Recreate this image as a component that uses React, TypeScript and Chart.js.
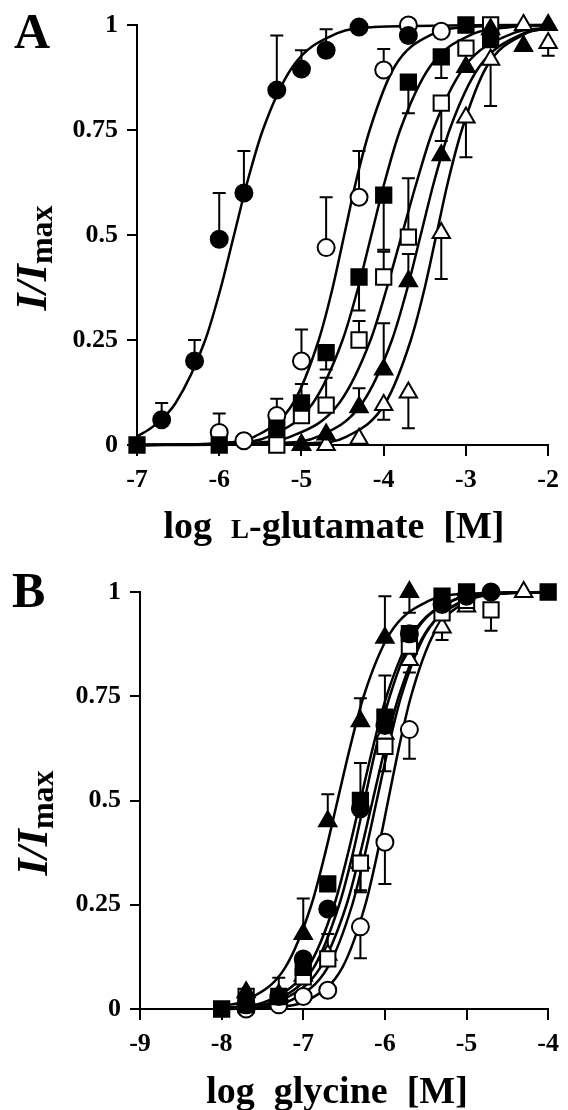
import React, { useEffect, useRef } from 'react';
import { Chart, registerables } from 'chart.js';

Chart.register(...registerables);

const FONT = "'Liberation Serif', 'Times New Roman', Times, serif";

// ---------- shared tick labels ----------
const Y_TICK_LABELS = ['0', '0.25', '0.5', '0.75', '1'];
const A_X_TICK_LABELS = ['-7', '-6', '-5', '-4', '-3', '-2'];
const B_X_TICK_LABELS = ['-9', '-8', '-7', '-6', '-5', '-4'];

// ---------- Panel A : log L-glutamate ----------
// filled circle
const A_FC_X = [-6.7, -6.3, -6, -5.7, -5.3, -5, -4.7, -4.3, -3.7];
const A_FC_Y = [0.06, 0.2, 0.49, 0.6, 0.845, 0.895, 0.94, 0.995, 0.975];
const A_FC_ERR = [0.04, 0.05, 0.11, 0.1, 0.13, 0.045, 0.05, 0, 0];
const A_FC_CURVE_X = [-7, -6.8, -6.53, -6.17, -5.98, -5.82, -5.66, -5.47, -5.11, -4.57, -4.12, -2];
const A_FC_CURVE_Y = [0.02, 0.045, 0.1, 0.25, 0.375, 0.5, 0.625, 0.75, 0.9, 0.98, 0.995, 1];
// open circle
const A_OC_X = [-6, -5.7, -5.3, -5, -4.7, -4.3, -4, -3.7, -3.3];
const A_OC_Y = [0.03, 0.01, 0.07, 0.2, 0.47, 0.59, 0.893, 1.0, 0.985];
const A_OC_ERR = [0.045, 0, 0.04, 0.075, 0.12, 0.11, 0.05, 0, 0];
const A_OC_CURVE_X = [-7, -5.96, -5.57, -5.1, -4.79, -4.62, -4.48, -4.34, -4.17, -3.87, -3.39, -3.0, -2];
const A_OC_CURVE_Y = [0, 0.005, 0.02, 0.1, 0.25, 0.375, 0.5, 0.625, 0.75, 0.9, 0.98, 0.995, 1];
// filled square
const A_FS_X = [-7, -6, -5.3, -5, -4.7, -4.3, -4, -3.7, -3.3, -3, -2.7];
const A_FS_Y = [0, 0, 0.04, 0.1, 0.22, 0.4, 0.595, 0.864, 0.924, 1.0, 0.965];
const A_FS_ERR = [0, 0, 0, 0.045, -0.04, -0.08, -0.13, -0.074, -0.05, 0, 0];
const A_FS_CURVE_X = [-7, -5.85, -5.4, -4.86, -4.5, -4.31, -4.15, -3.99, -3.8, -3.44, -2.9, -2.45, -2];
const A_FS_CURVE_Y = [0, 0.005, 0.02, 0.1, 0.25, 0.375, 0.5, 0.625, 0.75, 0.9, 0.98, 0.995, 1];
// open square
const A_OS_X = [-5.3, -5, -4.7, -4.3, -4, -3.7, -3.3, -3, -2.7];
const A_OS_Y = [0, 0.07, 0.095, 0.25, 0.4, 0.495, 0.814, 0.945, 1.0];
const A_OS_ERR = [0, 0, 0.065, 0.045, 0.06, 0.14, -0.09, 0, 0];
const A_OS_CURVE_X = [-7, -5.62, -5.13, -4.54, -4.16, -3.96, -3.78, -3.6, -3.4, -3.02, -2.43, -2];
const A_OS_CURVE_Y = [0, 0.005, 0.02, 0.1, 0.25, 0.375, 0.5, 0.625, 0.75, 0.9, 0.98, 0.994];
// filled triangle
const A_FT_X = [-5, -4.7, -4.3, -4, -3.7, -3.3, -3, -2.7, -2.3, -2];
const A_FT_Y = [0, 0.025, 0.09, 0.18, 0.39, 0.69, 0.9, 0.99, 0.95, 1.0];
const A_FT_ERR = [0, 0, 0.045, 0.11, 0.065, 0, 0, 0, 0, 0];
const A_FT_CURVE_X = [-7, -5.25, -4.8, -4.26, -3.9, -3.71, -3.55, -3.39, -3.2, -2.84, -2.3, -2];
const A_FT_CURVE_Y = [0, 0.005, 0.02, 0.1, 0.25, 0.375, 0.5, 0.625, 0.75, 0.9, 0.98, 0.992];
// open triangle
const A_OT_X = [-5, -4.7, -4.3, -4, -3.7, -3.3, -3, -2.7, -2.3, -2];
const A_OT_Y = [0, 0, 0.015, 0.095, 0.125, 0.505, 0.78, 0.917, 1.0, 0.957];
const A_OT_ERR = [0, 0, 0, -0.035, -0.085, -0.11, -0.095, -0.11, 0, -0.03];
const A_OT_CURVE_X = [-7, -4.84, -4.45, -3.98, -3.67, -3.5, -3.36, -3.22, -3.05, -2.75, -2.27, -2];
const A_OT_CURVE_Y = [0, 0.005, 0.02, 0.1, 0.25, 0.375, 0.5, 0.625, 0.75, 0.9, 0.98, 0.992];

// ---------- Panel B : log glycine ----------
const B_FC_X = [-7.7, -7.3, -7, -6.7, -6.3, -6, -5.7, -5.3, -5, -4.7];
const B_FC_Y = [0.01, 0.03, 0.12, 0.24, 0.48, 0.68, 0.9, 0.97, 0.99, 1.0];
const B_FC_ERR = [0, 0, 0, 0, 0, 0, 0, 0, 0, 0];
const B_FC_CURVE_X = [-8, -7.73, -7.34, -6.87, -6.56, -6.39, -6.25, -6.11, -5.94, -5.64, -5.16, -4.77, -4];
const B_FC_CURVE_Y = [0.002, 0.005, 0.02, 0.1, 0.25, 0.375, 0.5, 0.625, 0.75, 0.9, 0.98, 0.995, 1];

const B_OC_X = [-7.7, -7.3, -7, -6.7, -6.3, -6, -5.7];
const B_OC_Y = [0, 0.01, 0.03, 0.045, 0.197, 0.4, 0.67];
const B_OC_ERR = [0, 0, 0, 0, -0.075, -0.1, -0.07];
const B_OC_CURVE_X = [-8, -7.31, -6.95, -6.52, -6.24, -6.09, -5.96, -5.83, -5.68, -5.4, -4.97, -4.61, -4];
const B_OC_CURVE_Y = [0, 0.005, 0.02, 0.1, 0.25, 0.375, 0.5, 0.625, 0.75, 0.9, 0.98, 0.995, 1];

const B_FS_X = [-8, -7.7, -7.3, -7, -6.7, -6.3, -6, -5.7, -5.3, -5, -4];
const B_FS_Y = [0, 0.01, 0.03, 0.1, 0.3, 0.5, 0.7, 0.9, 0.99, 1.0, 1.0];
const B_FS_ERR = [0, 0, 0, 0, 0, 0.09, 0.1, 0, 0, 0, 0];
const B_FS_CURVE_X = [-8, -7.83, -7.43, -6.94, -6.62, -6.45, -6.3, -6.15, -5.98, -5.66, -5.17, -4.77, -4];
const B_FS_CURVE_Y = [0.003, 0.005, 0.02, 0.1, 0.25, 0.375, 0.5, 0.625, 0.75, 0.9, 0.98, 0.995, 1];

const B_OS_X = [-7.7, -7.3, -7, -6.7, -6.3, -6, -5.7, -5.3, -5, -4.7];
const B_OS_Y = [0.03, 0.02, 0.077, 0.12, 0.35, 0.63, 0.87, 0.95, 0.98, 0.957];
const B_OS_ERR = [0, 0, 0, 0.06, -0.07, 0, 0, 0, 0, -0.05];
const B_OS_CURVE_X = [-8, -7.68, -7.28, -6.79, -6.47, -6.3, -6.15, -6.0, -5.83, -5.51, -5.02, -4.62, -4];
const B_OS_CURVE_Y = [0.002, 0.005, 0.02, 0.1, 0.25, 0.375, 0.5, 0.625, 0.75, 0.9, 0.98, 0.995, 1];

const B_FT_X = [-7.7, -7.3, -7, -6.7, -6.3, -6, -5.7];
const B_FT_Y = [0.04, 0.035, 0.18, 0.45, 0.69, 0.89, 1.0];
const B_FT_ERR = [0, 0.04, 0.085, 0.065, 0.055, 0.1, -0.05];
const B_FT_CURVE_X = [-8, -7.71, -7.22, -6.9, -6.73, -6.58, -6.43, -6.26, -5.94, -5.45, -5.05, -4];
const B_FT_CURVE_Y = [0.007, 0.02, 0.1, 0.25, 0.375, 0.5, 0.625, 0.75, 0.9, 0.98, 0.995, 1];

const B_OT_X = [-7.7, -7.3, -7, -6.7, -6.3, -6, -5.7, -5.3, -5, -4.3];
const B_OT_Y = [0.02, 0.03, 0.08, 0.13, 0.35, 0.66, 0.837, 0.915, 0.965, 1.0];
const B_OT_ERR = [0, 0, 0, 0, -0.065, -0.09, -0.03, -0.03, 0, 0];
const B_OT_CURVE_X = [-8, -7.54, -7.16, -6.7, -6.4, -6.24, -6.1, -5.96, -5.8, -5.5, -5.04, -4.66, -4];
const B_OT_CURVE_Y = [0.001, 0.005, 0.02, 0.1, 0.25, 0.375, 0.5, 0.625, 0.75, 0.9, 0.98, 0.995, 1];

// ---------- styles ----------
const MARKER_STYLE: Record<string, { pointStyle: string; fill: string; radius: number }> = {
  fc: { pointStyle: 'circle', fill: '#000', radius: 8.5 },
  fs: { pointStyle: 'rect', fill: '#000', radius: 10.8 },
  ft: { pointStyle: 'triangle', fill: '#000', radius: 10 },
  oc: { pointStyle: 'circle', fill: '#fff', radius: 8.5 },
  os: { pointStyle: 'rect', fill: '#fff', radius: 10.8 },
  ot: { pointStyle: 'triangle', fill: '#fff', radius: 10 },
};
const MARKER_ORDER = ['fc', 'fs', 'ft', 'oc', 'os', 'ot'];

type Series = { key: string; x: number[]; y: number[]; err: number[]; cx: number[]; cy: number[] };

const A_SERIES: Series[] = [
  { key: 'fc', x: A_FC_X, y: A_FC_Y, err: A_FC_ERR, cx: A_FC_CURVE_X, cy: A_FC_CURVE_Y },
  { key: 'oc', x: A_OC_X, y: A_OC_Y, err: A_OC_ERR, cx: A_OC_CURVE_X, cy: A_OC_CURVE_Y },
  { key: 'fs', x: A_FS_X, y: A_FS_Y, err: A_FS_ERR, cx: A_FS_CURVE_X, cy: A_FS_CURVE_Y },
  { key: 'os', x: A_OS_X, y: A_OS_Y, err: A_OS_ERR, cx: A_OS_CURVE_X, cy: A_OS_CURVE_Y },
  { key: 'ft', x: A_FT_X, y: A_FT_Y, err: A_FT_ERR, cx: A_FT_CURVE_X, cy: A_FT_CURVE_Y },
  { key: 'ot', x: A_OT_X, y: A_OT_Y, err: A_OT_ERR, cx: A_OT_CURVE_X, cy: A_OT_CURVE_Y },
];
const B_SERIES: Series[] = [
  { key: 'fc', x: B_FC_X, y: B_FC_Y, err: B_FC_ERR, cx: B_FC_CURVE_X, cy: B_FC_CURVE_Y },
  { key: 'oc', x: B_OC_X, y: B_OC_Y, err: B_OC_ERR, cx: B_OC_CURVE_X, cy: B_OC_CURVE_Y },
  { key: 'fs', x: B_FS_X, y: B_FS_Y, err: B_FS_ERR, cx: B_FS_CURVE_X, cy: B_FS_CURVE_Y },
  { key: 'os', x: B_OS_X, y: B_OS_Y, err: B_OS_ERR, cx: B_OS_CURVE_X, cy: B_OS_CURVE_Y },
  { key: 'ft', x: B_FT_X, y: B_FT_Y, err: B_FT_ERR, cx: B_FT_CURVE_X, cy: B_FT_CURVE_Y },
  { key: 'ot', x: B_OT_X, y: B_OT_Y, err: B_OT_ERR, cx: B_OT_CURVE_X, cy: B_OT_CURVE_Y },
];

const errorBarPlugin = {
  id: 'errbars',
  beforeDatasetsDraw(chart: any) {
    const ctx = chart.ctx;
    const xs = chart.scales.x;
    const ys = chart.scales.y;
    ctx.save();
    ctx.strokeStyle = '#000';
    ctx.lineWidth = 2;
    chart.data.datasets.forEach((ds: any) => {
      const err = ds.errors;
      if (!err) return;
      ds.data.forEach((p: any, i: number) => {
        const e = err[i];
        if (!e) return;
        const px = xs.getPixelForValue(p.x);
        const py0 = ys.getPixelForValue(p.y);
        const py1 = ys.getPixelForValue(p.y + e);
        ctx.beginPath();
        ctx.moveTo(px, py0);
        ctx.lineTo(px, py1);
        ctx.moveTo(px - 6.5, py1);
        ctx.lineTo(px + 6.5, py1);
        ctx.stroke();
      });
    });
    ctx.restore();
  },
};

function buildConfig(
  series: Series[],
  xMin: number,
  xMax: number,
  xTickLabels: string[],
  geom: { top: number; right: number; yw: number; xh: number }
): any {
  const datasets: any[] = [];
  MARKER_ORDER.forEach((k) => {
    const s = series.find((q) => q.key === k)!;
    const st = MARKER_STYLE[k];
    datasets.push({
      type: 'scatter',
      data: s.x.map((x, i) => ({ x, y: s.y[i] })),
      errors: s.err,
      pointStyle: st.pointStyle,
      pointRadius: st.radius,
      backgroundColor: st.fill,
      borderColor: '#000',
      borderWidth: 2,
      showLine: false,
      clip: false,
    });
  });
  series.forEach((s) => {
    datasets.push({
      type: 'line',
      data: s.cx.map((x, i) => ({ x, y: s.cy[i] })),
      pointRadius: 0,
      borderColor: '#000',
      borderWidth: 2.5,
      cubicInterpolationMode: 'monotone',
      fill: false,
      clip: false,
    });
  });
  const tickFont = { family: FONT, size: 26, weight: 'bold' };
  return {
    type: 'scatter',
    data: { datasets },
    plugins: [errorBarPlugin],
    options: {
      animation: false,
      responsive: false,
      devicePixelRatio: 1,
      events: [],
      layout: { padding: { top: geom.top, right: geom.right, left: 0, bottom: 0 } },
      plugins: { legend: { display: false }, tooltip: { enabled: false } },
      scales: {
        x: {
          type: 'linear',
          min: xMin,
          max: xMax,
          afterFit: (s: any) => {
            s.height = geom.xh;
          },
          ticks: {
            stepSize: 1,
            autoSkip: false,
            maxRotation: 0,
            padding: 9,
            color: '#000',
            font: tickFont,
            callback: (_v: any, i: number) => xTickLabels[i],
          },
          grid: { drawOnChartArea: false, drawTicks: true, tickLength: 11, color: '#000', lineWidth: 2 },
          border: { display: true, color: '#000', width: 2 },
        },
        y: {
          type: 'linear',
          min: 0,
          max: 1,
          afterFit: (s: any) => {
            s.width = geom.yw;
          },
          ticks: {
            stepSize: 0.25,
            autoSkip: false,
            padding: 9,
            color: '#000',
            font: tickFont,
            callback: (_v: any, i: number) => Y_TICK_LABELS[i],
          },
          grid: { drawOnChartArea: false, drawTicks: true, tickLength: 10, color: '#000', lineWidth: 2 },
          border: { display: true, color: '#000', width: 2 },
        },
      },
    },
  };
}

const abs: React.CSSProperties = { position: 'absolute', whiteSpace: 'nowrap', color: '#000' };

function YTitle({ cx, cy }: { cx: number; cy: number }) {
  return (
    <div
      style={{
        ...abs,
        left: cx,
        top: cy,
        transform: 'translate(-50%, -50%) rotate(-90deg)',
        fontFamily: FONT,
        fontWeight: 'bold',
        fontSize: 44,
        lineHeight: '44px',
      }}
    >
      <i>I/I</i>
      <span style={{ fontStyle: 'normal', fontSize: 32, position: 'relative', top: 6 }}>max</span>
    </div>
  );
}

export default function App() {
  const refA = useRef<HTMLCanvasElement>(null);
  const refB = useRef<HTMLCanvasElement>(null);

  useEffect(() => {
    const ca = new Chart(
      refA.current!,
      buildConfig(A_SERIES, -7, -2, A_X_TICK_LABELS, { top: 25, right: 14, yw: 137, xh: 110 })
    );
    const cb = new Chart(
      refB.current!,
      buildConfig(B_SERIES, -9, -4, B_X_TICK_LABELS, { top: 37, right: 11, yw: 140, xh: 101 })
    );
    return () => {
      ca.destroy();
      cb.destroy();
    };
  }, []);

  return (
    <div
      style={{
        position: 'absolute',
        left: 0,
        top: 0,
        width: 568,
        height: 1110,
        overflow: 'hidden',
        background: '#fff',
      }}
    >
      <canvas ref={refA} width={568} height={555} style={{ position: 'absolute', left: 0, top: 0 }} />
      <canvas ref={refB} width={568} height={555} style={{ position: 'absolute', left: 0, top: 555 }} />

      <div style={{ ...abs, left: 14, top: 6, fontFamily: FONT, fontWeight: 'bold', fontSize: 50, lineHeight: '50px' }}>A</div>
      <div style={{ ...abs, left: 12, top: 565, fontFamily: FONT, fontWeight: 'bold', fontSize: 50, lineHeight: '50px' }}>B</div>

      <YTitle cx={33} cy={258} />
      <YTitle cx={34} cy={823} />

      <div
        style={{
          ...abs,
          left: 334,
          top: 506,
          transform: 'translateX(-50%)',
          fontFamily: FONT,
          fontWeight: 'bold',
          fontSize: 38,
          lineHeight: '38px',
        }}
      >
        log{'\u00a0 '}<span style={{ fontVariant: 'small-caps' }}>l</span>-glutamate{'\u00a0 '}[M]
      </div>
      <div
        style={{
          ...abs,
          left: 337,
          top: 1071,
          transform: 'translateX(-50%)',
          fontFamily: FONT,
          fontWeight: 'bold',
          fontSize: 38,
          lineHeight: '38px',
        }}
      >
        log{'\u00a0 '}glycine{'\u00a0 '}[M]
      </div>
    </div>
  );
}
